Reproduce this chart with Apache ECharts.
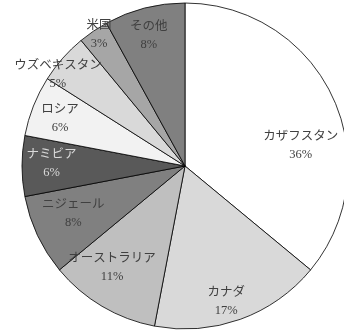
<!DOCTYPE html>
<html><head><meta charset="utf-8">
<script src="https://cdn.jsdelivr.net/npm/echarts@6/dist/echarts.min.js"></script>
<style>html,body{margin:0;padding:0;background:#fff}#c{width:344px;height:332px}</style>
</head><body><div id="c"></div>
<script>
const categories = ['カザフスタン','カナダ','オーストラリア','ニジェール','ナミビア','ロシア','ウズベキスタン','米国','その他'];
const values = [36,17,11,8,6,6,5,3,8];
const colors = ['#ffffff','#d9d9d9','#bfbfbf','#808080','#595959','#f2f2f2','#d9d9d9','#a6a6a6','#808080'];
const labelColors = ['#404040','#404040','#404040','#404040','#d9d9d9','#404040','#404040','#404040','#404040'];
const labelOffsets = [[-5,37],[-4,10],[-5,-13],[9,-9],[0,-2],[-1,2],[-27,-3],[-11,-21],[-3,-1]];

const chart = echarts.init(document.getElementById('c'), null, {renderer:'canvas'});
const R = 163;
const cx = 185, cy = 166;
chart.setOption({
  animation:false,
  series:[
    {
      type:'pie', center:[cx,cy], radius:[0,R], startAngle:90, clockwise:true,
      silent:true, label:{show:false}, labelLine:{show:false},
      data: categories.map((n,i)=>({name:n,value:values[i],itemStyle:{color:colors[i],borderColor:'#000',borderWidth:0.8}}))
    },
    {
      type:'pie', center:[cx,cy], radius:[R*0.6,R], startAngle:90, clockwise:true,
      silent:true, labelLine:{show:false}, avoidLabelOverlap:false,
      labelLayout:{hideOverlap:false},
      itemStyle:{color:'rgba(0,0,0,0)',borderWidth:0},
      label:{show:true, position:'inside', formatter:'{b}\n{d}%', color:'#404040',
        fontFamily:'"Liberation Serif","Noto Sans CJK JP"', fontSize:12.5, lineHeight:18},
      data: categories.map((n,i)=>({name:n,value:values[i],label:{offset:labelOffsets[i],color:labelColors[i]}}))
    }
  ]
});
</script></body></html>
